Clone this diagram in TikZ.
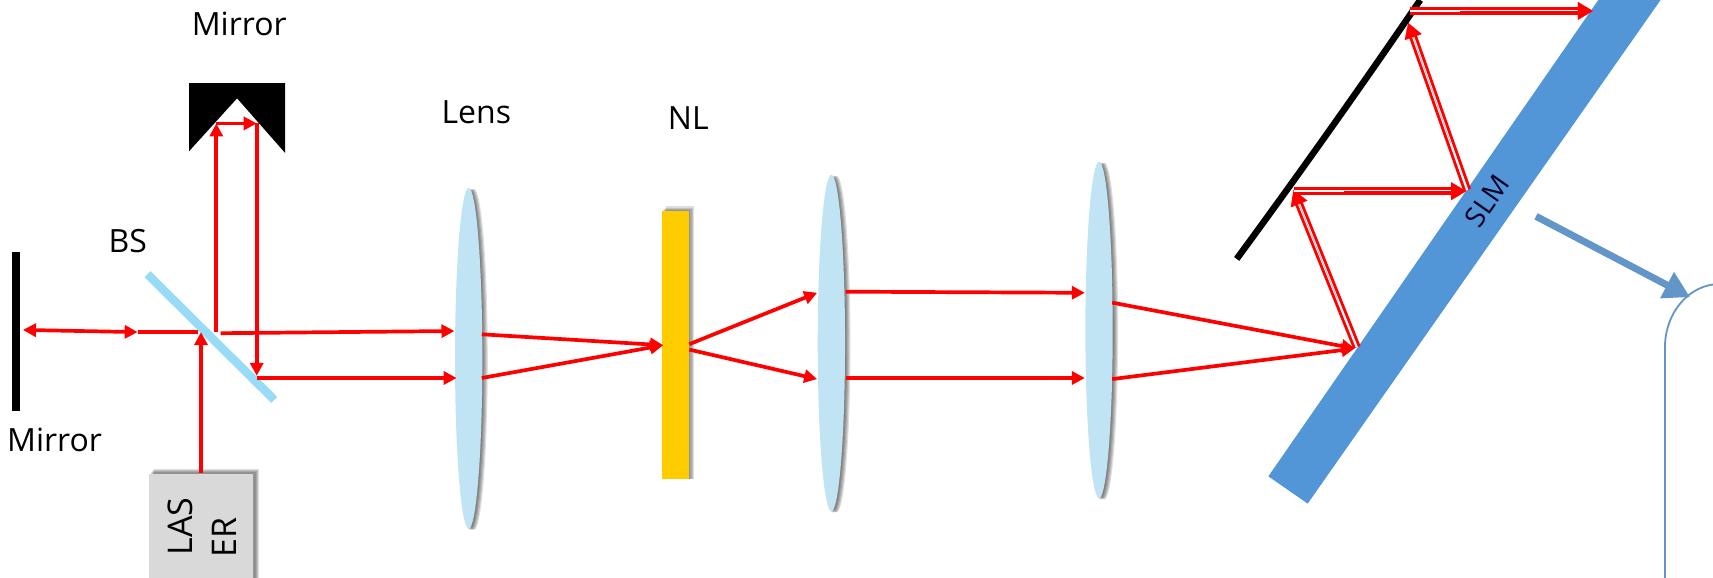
\documentclass[tikz,border=0pt]{standalone}
\usepackage{fontspec}
\setmainfont{Open Sans}
\usetikzlibrary{arrows.meta}
\definecolor{beam}{HTML}{FF0000}
\definecolor{slmblue}{HTML}{5296D8}
\definecolor{bsblue}{HTML}{97DBF7}
\definecolor{lensblue}{HTML}{C1E4F5}
\definecolor{nlyellow}{HTML}{FFCC00}
\definecolor{laserg}{HTML}{D9D9D9}
\definecolor{calloutblue}{HTML}{6295C8}
\tikzset{
  ray/.style={draw=beam,line width=3.7pt,-{Triangle[length=13pt,width=13pt]}},
  rayplain/.style={draw=beam,line width=3.7pt},
  rayboth/.style={draw=beam,line width=3.7pt,{Triangle[length=13pt,width=13pt]}-{Triangle[length=13pt,width=13pt]}},
  dbl/.style={draw=beam,line width=8pt},
  dblcore/.style={draw=white,line width=2.2pt},
  dbltip/.style={draw=beam,line width=.1pt,-{Triangle[length=15pt,width=18pt]}},
  label/.style={font=\fontsize{32}{35}\selectfont,text=black,inner sep=0pt},
  softshadow/.style={fill=black,opacity=.13},
}
\newcommand{\lensat}[3]{%
  \foreach \d in {1,2,3,4,5}{\fill[softshadow] (#1+\d,#2+1) ellipse [x radius=12.5,y radius=#3];}
  \fill[lensblue] (#1,#2) ellipse [x radius=12.5,y radius=#3];}
\begin{document}
\begin{tikzpicture}[x=1.0925pt,y=-1.0925pt]
\useasboundingbox (0,0) rectangle (1568,529);
\clip (0,0) rectangle (1568,529);
% labels
\node[label] (mt) at (219,22) {Mirror};
\node[label] (ml) at (50,403) {Mirror};
\node[label] (bs) at (117,221) {BS};
\node[label] (lens) at (436,103) {Lens};
\node[label] (nl) at (630,108) {NL};
% mirrors
\fill[black] (173,76) -- (261,76) -- (261,140) -- (217,90) -- (173,138.5) -- cycle;
\fill[black] (11,231) rectangle (18,376);
% beam splitter
\draw[bsblue,line width=8.5pt] (135,251) -- (251,366);
% laser
\foreach \d in {1,2,3,4}{\fill[softshadow] (137+\d,433-\d) rectangle (233+\d,530);}
\fill[laserg] (136,434) rectangle (232,530);
\node[label,rotate=90,font=\fontsize{34}{36}\selectfont] (las) at (165,482) {LAS};
\node[label,rotate=90,font=\fontsize{34}{36}\selectfont] (er) at (205,492) {ER};
% lenses
\lensat{429}{328}{156}
\lensat{761}{314}{154}
\lensat{1006}{302}{154}
% NL
\foreach \d in {1,2,3,4}{\fill[softshadow] (606+\d,193-\d) rectangle (631+\d,438);}
\fill[nlyellow] (606,193) rectangle (631,438);
% SLM
\fill[slmblue] (1161,436) -- (1197,461) -- (1520,0) -- (1463,0) -- cycle;
\node[label,rotate=55,font=\fontsize{28}{30}\selectfont,text=black!85!blue] (slm) at (1361,184) {SLM};
% second mirror
\draw[black,line width=6.5pt] (1132,237) .. controls (1182,169) and (1242,85) .. (1300,0);
% beam points
\coordinate (a0) at (184,433); \coordinate (a1) at (184,304);
\coordinate (b0) at (21,302); \coordinate (b1) at (126,304); \coordinate (b2) at (181,304);
\coordinate (c0) at (198,304); \coordinate (c1) at (198,113); \coordinate (c2) at (235,113); \coordinate (c3) at (235,344);
\coordinate (d0) at (202,305); \coordinate (d1) at (416,303);
\coordinate (e0) at (235,346); \coordinate (e1) at (418,346);
\coordinate (f0) at (441,306); \coordinate (f1) at (441,346); \coordinate (f2) at (607,316);
\coordinate (g0) at (631,315); \coordinate (g1) at (748,268); \coordinate (h0) at (631,320); \coordinate (h1) at (748,347);
\coordinate (i0) at (774,267); \coordinate (i1) at (993,268); \coordinate (j0) at (774,346); \coordinate (j1) at (993,346);
\coordinate (k0) at (1018,277); \coordinate (k1) at (1018,347); \coordinate (k2) at (1240,319);
\coordinate (p0) at (1242,318); \coordinate (p1) at (1184,174);
\coordinate (q0) at (1184,175); \coordinate (q1) at (1342,175);
\coordinate (r0) at (1343,174); \coordinate (r1) at (1289,21);
\coordinate (s0) at (1291,10); \coordinate (s1) at (1458,10);
% single beams
\draw[ray] (a0) -- (a1);
\draw[rayboth] (b0) -- (b1);
\draw[rayplain] (b1) -- (b2);
\draw[ray] (c0) -- (c1);
\draw[ray] (c1) -- (c2);
\draw[ray] (c2) -- (c3);
\draw[ray] (d0) -- (d1);
\draw[ray] (e0) -- (e1);
\draw[ray] (f1) -- (f2);
\draw[ray] (f0) -- (f2);
\draw[ray] (g0) -- (g1);
\draw[ray] (h0) -- (h1);
\draw[ray] (i0) -- (i1);
\draw[ray] (j0) -- (j1);
\draw[ray] (k0) -- (k2);
\draw[ray] (k1) -- (k2);
% double beams
\foreach \u/\v in {p0/p1,q0/q1,r0/r1,s0/s1}{
  \draw[dbl,shorten >=6pt] (\u) -- (\v);
  \draw[dblcore,shorten >=6pt] (\u) -- (\v);
  \draw[dbltip,shorten <=50pt] (\u) -- (\v);
}
% callout
\draw[calloutblue,line width=7pt,-{Triangle[length=26pt,width=28pt]}] (1406,198) coordinate (w0) -- (1547,272) coordinate (w1);
\draw[calloutblue,line width=1.8pt] (1524,540) -- (1524,318) arc[start angle=180,end angle=90,x radius=50,y radius=-58] -- (1580,260);
\end{tikzpicture}
\end{document}
